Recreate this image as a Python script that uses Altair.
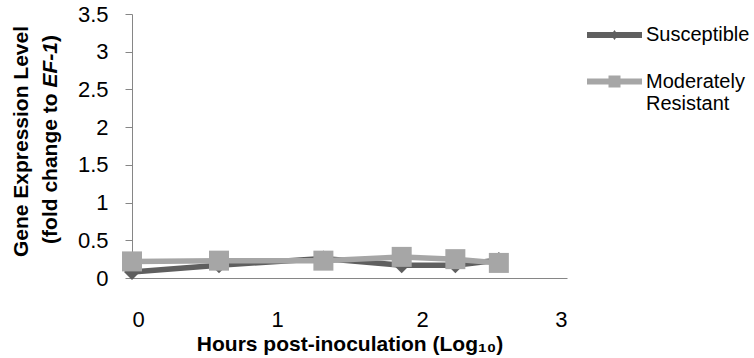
import altair as alt
import pandas as pd

# Time after inoculation (log10 hours) and expression relative to EF-1
hours_log = [0.0, 0.60, 1.32, 1.86, 2.23, 2.53]
susceptible = [0.08, 0.17, 0.26, 0.17, 0.17, 0.24]
moderately_resistant = [0.22, 0.23, 0.23, 0.28, 0.25, 0.20]

series_names = ["Susceptible", "Moderately Resistant"]
series_colors = ["#5f5f5f", "#a6a6a6"]

y_ticks = [0, 0.5, 1, 1.5, 2, 2.5, 3, 3.5]
x_ticks = [0, 1, 2, 3]

FONT = "Liberation Sans, Arial, sans-serif"

rows = []
for name, vals in zip(series_names, [susceptible, moderately_resistant]):
    for h, v in zip(hours_log, vals):
        rows.append({"hours": h, "level": v, "series": name})
df = pd.DataFrame(rows)

x_enc = alt.X(
    "hours:Q",
    scale=alt.Scale(domain=[0, 3], nice=False, zero=False),
    axis=alt.Axis(
        values=x_ticks, format="d", ticks=False, tickSize=0, labelPadding=31,
        labelFontSize=22, labelFont=FONT, labelColor="#000000",
        domainColor="#868686", grid=False,
        title="Hours post-inoculation (Log₁₀)", titleFont=FONT, titleFontSize=21,
        titleFontWeight="bold", titleColor="#000000",
        titleBaseline="alphabetic", titleY=72,
    ),
)
y_enc = alt.Y(
    "level:Q",
    scale=alt.Scale(domain=[0, 3.5], nice=False),
    axis=alt.Axis(
        values=y_ticks, format=".1~f", tickSize=7, labelPadding=17,
        labelFontSize=22, labelFont=FONT, labelColor="#000000",
        domainColor="#868686", tickColor="#868686", grid=False, title=None,
    ),
)

base = alt.Chart(df).encode(x=x_enc, y=y_enc)

sus = base.transform_filter(alt.datum.series == "Susceptible")
res = base.transform_filter(alt.datum.series == "Moderately Resistant")

sus_line = sus.mark_line(color=series_colors[0], strokeWidth=5.5, strokeJoin="round")
sus_pts = sus.mark_point(shape="diamond", filled=True, size=256, opacity=1,
                         color=series_colors[0])
res_line = res.mark_line(color=series_colors[1], strokeWidth=5.5, strokeJoin="round")
res_pts = res.mark_point(shape="square", filled=True, size=400, opacity=1,
                         color=series_colors[1])

# legend symbols: a thick line with the series marker on it
sym_sus = ("M-1.375,-0.15L1.375,-0.15L1.375,0.15L-1.375,0.15Z"
           "M-0.175,0L0,-0.25L0.175,0L0,0.25Z")
sym_res = ("M-1.375,-0.15L1.375,-0.15L1.375,0.15L-1.375,0.15Z"
           "M-0.3,-0.3L0.3,-0.3L0.3,0.3L-0.3,0.3Z")

legend_layer = base.mark_point(filled=True, size=0, opacity=1).encode(
    color=alt.Color(
        "series:N",
        scale=alt.Scale(domain=series_names, range=series_colors),
        sort=series_names,
        legend=alt.Legend(
            title=None, orient="none", legendX=462.5, legendY=1, padding=0,
            symbolSize=1600, symbolStrokeWidth=0, symbolOpacity=1,
            labelFont=FONT, labelFontSize=20, labelColor="#000000",
            labelOffset=11.5, rowPadding=16.5, labelLimit=200,
            labelExpr="datum.label == 'Moderately Resistant' ? ['Moderately', 'Resistant'] : datum.label",
        ),
    ),
    shape=alt.Shape(
        "series:N",
        scale=alt.Scale(domain=series_names, range=[sym_sus, sym_res]),
        sort=series_names,
    ),
)

one = alt.Data(values=[{}])
title_kw = dict(font=FONT, fontSize=21, fontWeight="bold", angle=270,
                baseline="alphabetic", color="#000000")
ytitle1 = alt.Chart(one).mark_text(text="Gene Expression Level", align="center",
                                   **title_kw).encode(x=alt.value(-104), y=alt.value(127.5))
ytitle2a = alt.Chart(one).mark_text(text="(fold change to", align="left",
                                    **title_kw).encode(x=alt.value(-75), y=alt.value(229.9))
ytitle2b = alt.Chart(one).mark_text(text="EF-1", align="left", fontStyle="italic",
                                    **title_kw).encode(x=alt.value(-75), y=alt.value(73.6))
ytitle2c = alt.Chart(one).mark_text(text=")", align="left",
                                    **title_kw).encode(x=alt.value(-75), y=alt.value(28.1))

chart = alt.layer(
    legend_layer, sus_line, sus_pts, res_line, res_pts,
    ytitle1, ytitle2a, ytitle2b, ytitle2c,
).properties(
    width=435, height=264,
    autosize=alt.AutoSizeParams(type="none"),
    padding={"left": 132, "top": 14, "right": 187, "bottom": 80},
    background="#ffffff",
).configure_view(stroke=None)

chart.save("out.html", embed_options={"renderer": "svg", "actions": False})
